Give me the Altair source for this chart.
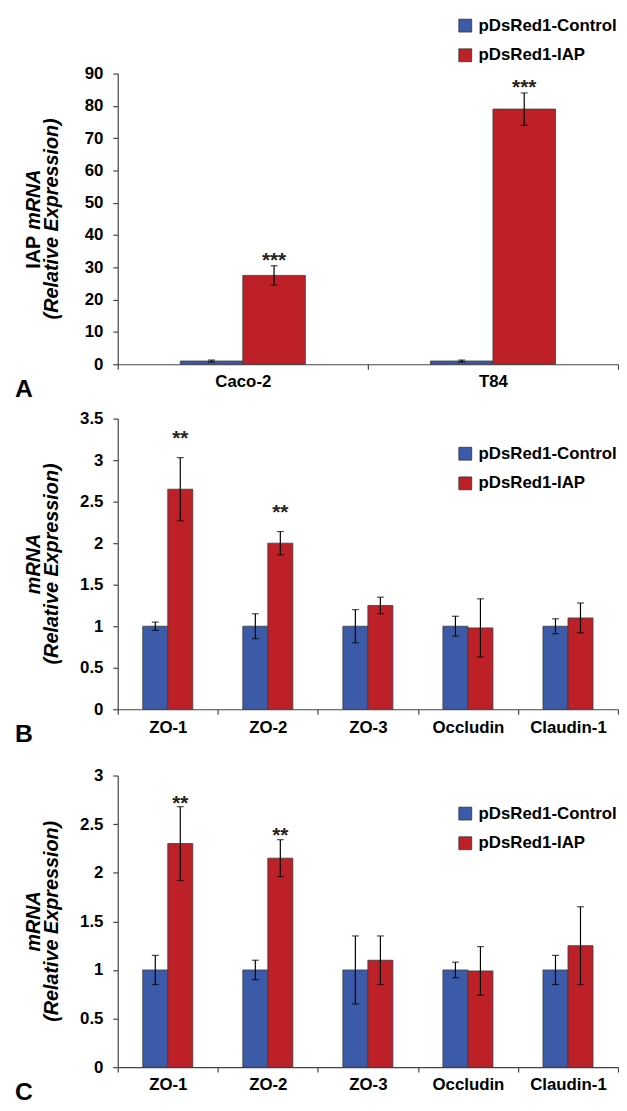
import altair as alt
import pandas as pd

FONT = "Liberation Sans"

groups = ["pDsRed1-Control", "pDsRed1-IAP"]
colors = ["#3B5BA8", "#BE2027"]

# Panel A
a_cats = ["Caco-2", "T84"]
a_ctrl = [1.0, 1.0]
a_ctrl_err = [0.3, 0.3]
a_iap = [27.5, 79.0]
a_iap_err = [3.0, 5.0]
a_star_cats = ["Caco-2", "T84"]
a_star_txt = ["***", "***"]
a_star_y = [33.8, 87.2]
a_ticks = [0, 10, 20, 30, 40, 50, 60, 70, 80, 90]

# Panel B
genes = ["ZO-1", "ZO-2", "ZO-3", "Occludin", "Claudin-1"]
b_ctrl = [1.0, 1.0, 1.0, 1.0, 1.0]
b_ctrl_err = [0.05, 0.15, 0.20, 0.12, 0.09]
b_iap = [2.65, 2.00, 1.25, 0.98, 1.10]
b_iap_err = [0.38, 0.14, 0.10, 0.35, 0.18]
b_star_cats = ["ZO-1", "ZO-2"]
b_star_txt = ["**", "**"]
b_star_y = [3.33, 2.43]
b_ticks = [0, 0.5, 1, 1.5, 2, 2.5, 3, 3.5]

# Panel C
c_ctrl = [1.0, 1.0, 1.0, 1.0, 1.0]
c_ctrl_err = [0.15, 0.10, 0.35, 0.08, 0.15]
c_iap = [2.30, 2.15, 1.10, 0.99, 1.25]
c_iap_err = [0.38, 0.19, 0.25, 0.25, 0.40]
c_star_cats = ["ZO-1", "ZO-2"]
c_star_txt = ["**", "**"]
c_star_y = [2.77, 2.44]
c_ticks = [0, 0.5, 1, 1.5, 2, 2.5, 3]

W = 506


def panel(cats, ctrl, ctrl_err, iap, iap_err, s_cats, s_txt, s_y, ticks,
          ymax, height, letter, title1, legend_y):
    rows = []
    for i, c in enumerate(cats):
        rows.append(dict(cat=c, group=groups[0], value=ctrl[i],
                         lo=ctrl[i] - ctrl_err[i], hi=ctrl[i] + ctrl_err[i]))
        rows.append(dict(cat=c, group=groups[1], value=iap[i],
                         lo=iap[i] - iap_err[i], hi=iap[i] + iap_err[i]))
    df = pd.DataFrame(rows)
    sdf = pd.DataFrame(dict(cat=s_cats, group=[groups[1]] * len(s_cats),
                            label=s_txt, y=s_y))

    xaxis = alt.Axis(title=None, labelAngle=0, tickBand="extent")
    yaxis = alt.Axis(title=None, values=ticks, format="~r")
    yscale = alt.Scale(domain=[0, ymax], nice=False, zero=True)
    xenc = alt.X("cat:N", sort=cats, axis=xaxis,
                 scale=alt.Scale(paddingInner=0, paddingOuter=0))
    xoff = alt.XOffset("group:N", sort=groups,
                       scale=alt.Scale(paddingInner=0, paddingOuter=1))

    base = alt.Chart(df)
    bars = base.mark_bar(stroke="#3a3a3a", strokeWidth=0.8).encode(
        x=xenc, xOffset=xoff,
        y=alt.Y("value:Q", scale=yscale, axis=yaxis),
        color=alt.Color("group:N", sort=groups,
                        scale=alt.Scale(domain=groups, range=colors),
                        legend=alt.Legend(
                            title=None, orient="none", legendX=343,
                            legendY=legend_y, symbolType="square",
                            symbolSize=169, symbolStrokeColor="#333333",
                            symbolStrokeWidth=0.8, symbolOpacity=1,
                            labelFont=FONT, labelFontSize=17,
                            labelFontWeight="bold", labelColor="black",
                            rowPadding=12, labelOffset=5, padding=0)),
    )
    rule = base.mark_rule(color="black", strokeWidth=1.2).encode(
        x=xenc, xOffset=xoff,
        y=alt.Y("lo:Q", scale=yscale, axis=yaxis), y2="hi:Q")
    cap_lo = base.mark_tick(color="black", thickness=1.2, size=7).encode(
        x=xenc, xOffset=xoff, y=alt.Y("lo:Q", scale=yscale, axis=yaxis))
    cap_hi = base.mark_tick(color="black", thickness=1.2, size=7).encode(
        x=xenc, xOffset=xoff, y=alt.Y("hi:Q", scale=yscale, axis=yaxis))
    stars = alt.Chart(sdf).mark_text(
        font=FONT, fontSize=21, fontWeight="bold", baseline="alphabetic",
        dy=12, color="#222222").encode(
        x=xenc, xOffset=xoff, y=alt.Y("y:Q", scale=yscale, axis=yaxis),
        text="label:N")

    let = alt.Chart(pd.DataFrame(dict(t=[letter]))).mark_text(
        font=FONT, fontSize=25, fontWeight="bold", align="left",
        baseline="alphabetic", color="black").encode(
        text="t:N", x=alt.value(-104), y=alt.value(height + 33))

    layers = [bars, rule, cap_lo, cap_hi, stars, let]

    mid = height / 2
    if title1 == "IAP":
        t1a = alt.Chart(pd.DataFrame(dict(t=["IAP"]))).mark_text(
            font=FONT, fontSize=20, fontWeight="bold", align="right",
            baseline="middle", angle=270, color="black").encode(
            text="t:N", x=alt.value(-85), y=alt.value(mid + 17))
        t1b = alt.Chart(pd.DataFrame(dict(t=["mRNA"]))).mark_text(
            font=FONT, fontSize=20, fontWeight="bold", fontStyle="italic",
            align="left", baseline="middle", angle=270,
            color="black").encode(
            text="t:N", x=alt.value(-85), y=alt.value(mid + 11))
        layers += [t1a, t1b]
    else:
        t1 = alt.Chart(pd.DataFrame(dict(t=["mRNA"]))).mark_text(
            font=FONT, fontSize=20, fontWeight="bold", fontStyle="italic",
            align="center", baseline="middle", angle=270,
            color="black").encode(
            text="t:N", x=alt.value(-85), y=alt.value(mid))
        layers += [t1]
    t2 = alt.Chart(pd.DataFrame(dict(t=["(Relative Expression)"]))).mark_text(
        font=FONT, fontSize=20, fontWeight="bold", fontStyle="italic",
        align="center", baseline="middle", angle=270, color="black").encode(
        text="t:N", x=alt.value(-66), y=alt.value(mid))
    layers += [t2]

    return alt.layer(*layers).properties(width=W, height=height)


pa = panel(a_cats, a_ctrl, a_ctrl_err, a_iap, a_iap_err, a_star_cats,
           a_star_txt, a_star_y, a_ticks, 90, 294, "A", "IAP", -57)
pb = panel(genes, b_ctrl, b_ctrl_err, b_iap, b_iap_err, b_star_cats,
           b_star_txt, b_star_y, b_ticks, 3.5, 294, "B", "mRNA", 27)
pc = panel(genes, c_ctrl, c_ctrl_err, c_iap, c_iap_err, c_star_cats,
           c_star_txt, c_star_y, c_ticks, 3, 295, "C", "mRNA", 30)

inner = alt.vconcat(pb, pc, spacing=67, bounds="flush").resolve_scale(
    x="independent", y="independent", xOffset="independent",
    color="independent").resolve_legend(color="independent")

chart = alt.vconcat(pa, inner, spacing=55, bounds="flush").resolve_scale(
    x="independent", y="independent", xOffset="independent",
    color="independent").resolve_legend(color="independent").properties(
    padding={"left": 7, "top": 3, "right": 0, "bottom": 0}
).configure_view(stroke=None).configure_axis(
    labelFont=FONT, labelFontWeight="bold", labelColor="black",
    labelFontSize=17, domainColor="#444444", tickColor="#444444",
    grid=False, domainWidth=1.2, tickWidth=1.2
).configure_axisX(
    tickSize=5, labelPadding=5
).configure_axisY(
    tickSize=5, labelPadding=10
)

chart.save("out.html", embed_options={"renderer": "svg", "actions": False})
